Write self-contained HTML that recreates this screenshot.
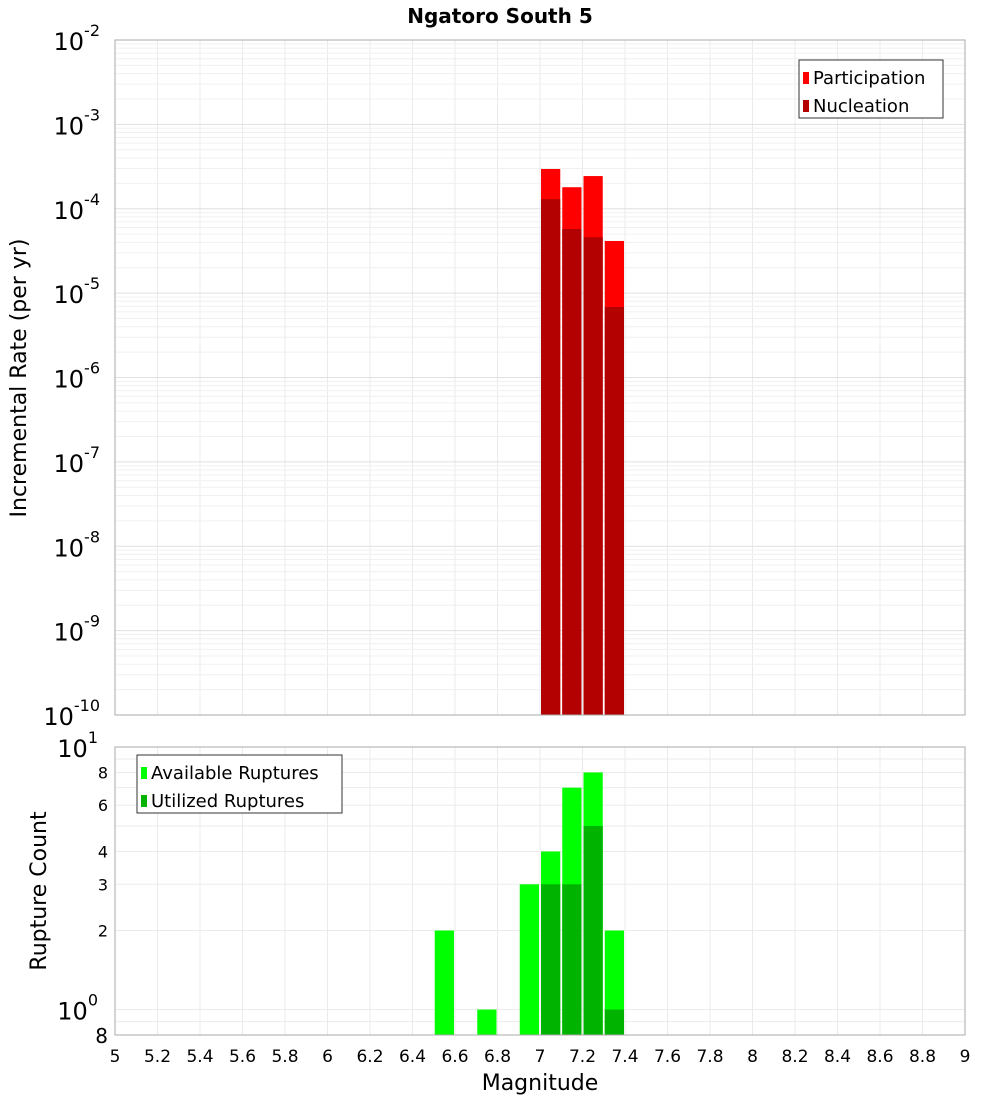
<!DOCTYPE html>
<html><head><meta charset="utf-8"><style>
body{margin:0;background:#fff;font-family:"DejaVu Sans","Liberation Sans",sans-serif}
svg{display:block}
</style></head><body>
<svg id="c" width="1000" height="1100" font-family="DejaVu Sans, Liberation Sans, sans-serif">
<text x="500" y="23" text-anchor="middle" font-size="20" font-weight="bold">Ngatoro South 5</text>
<g id="topG"></g>
<g id="botG"></g>
<text x="540" y="1090" text-anchor="middle" font-size="22">Magnitude</text>
<text transform="translate(26,378) rotate(-90)" text-anchor="middle" font-size="22">Incremental Rate (per yr)</text>
<text transform="translate(46,891) rotate(-90)" text-anchor="middle" font-size="22">Rupture Count</text>
</svg>
<script>
const mags=[6.55,6.75,6.95,7.05,7.15,7.25,7.35];
const partMags=[7.05,7.15,7.25,7.35];
const participation=[2.96e-4,1.8e-4,2.44e-4,4.15e-5];
const nucleation=[1.3e-4,5.75e-5,4.6e-5,6.85e-6];
const available=[2,1,3,4,7,8,2];
const utilMags=[7.05,7.15,7.25,7.35];
const utilized=[3,3,5,1];
const xTicks=[5,5.2,5.4,5.6,5.8,6,6.2,6.4,6.6,6.8,7,7.2,7.4,7.6,7.8,8,8.2,8.4,8.6,8.8,9];
const topExp=[-2,-3,-4,-5,-6,-7,-8,-9,-10];
const botMinor=[2,3,4,6,8];

const NS="http://www.w3.org/2000/svg";
const L=115,R=965;
const xs=m=>L+(m-5)/4*(R-L);
const T0=40,T1=715,yt=v=>T0+(-2-Math.log10(v))/8*(T1-T0);
const B0=747,B1=1035,lmin=Math.log10(0.8),yb=v=>B0+(1-Math.log10(v))/(1-lmin)*(B1-B0);
function mk(p,tag,a,txt){const e=document.createElementNS(NS,tag);for(const k in a)e.setAttribute(k,a[k]);if(txt!==undefined)e.textContent=txt;p.appendChild(e);return e;}
const topG=document.getElementById('topG'),botG=document.getElementById('botG');
mk(topG,'rect',{x:L,y:T0,width:R-L,height:T1-T0,fill:'#fff',stroke:'none'});
mk(botG,'rect',{x:L,y:B0,width:R-L,height:B1-B0,fill:'#fff',stroke:'none'});
xTicks.forEach(t=>{const x=xs(t);
 let g=mk(topG,'line',{x1:x,x2:x,y1:T0,y2:T1,stroke:'#ebebeb'});
 
 
 g=mk(botG,'line',{x1:x,x2:x,y1:B0,y2:B1,stroke:'#ebebeb'});
 
 
 const tl=mk(botG,'text',{x:x,y:1062,'text-anchor':'middle','font-size':17},String(t));
 
 
});
topExp.forEach(e=>{
 for(let k=1;k<10;k++){const v=k*Math.pow(10,e);if(e===-2&&k>1)break;const y=yt(v);
  const g=mk(topG,'line',{x1:L,x2:R,y1:y,y2:y,stroke:k===1?'#e0e0e0':'#f0f0f0'});
  
  }
 const y=yt(Math.pow(10,e));
 const t=mk(topG,'text',{x:100,y:y+10,'text-anchor':'end','font-size':24});
 
 
 mk(t,'tspan',{},'10');mk(t,'tspan',{dy:-14,'font-size':16},String(e));
});
[0.8,0.9,1,2,3,4,5,6,7,8,9,10].forEach(v=>{const y=yb(v);
 const g=mk(botG,'line',{x1:L,x2:R,y1:y,y2:y,stroke:'#ebebeb'});
 
 });
botMinor.forEach(v=>{const t=mk(botG,'text',{x:108,y:yb(v)+6,'text-anchor':'end','font-size':16},String(v));
 
 });
[[1,0],[10,1]].forEach(([v,e])=>{const t=mk(botG,'text',{x:98,y:yb(v)+10,'text-anchor':'end','font-size':24});
 
 
 mk(t,'tspan',{},'10');mk(t,'tspan',{dy:-14,'font-size':16},String(e));});
{const t=mk(botG,'text',{x:108,y:B1+8,'text-anchor':'end','font-size':20},'8');
 
 }
function bar(p,m,y,base,fill,name){const x0=xs(m-0.05)+1,x1=xs(m+0.05)-1;
 const b=mk(p,'rect',{x:x0,y:y,width:x1-x0,height:base-y,fill:fill});
 
 }
partMags.forEach((m,i)=>bar(topG,m,yt(participation[i]),T1,'#ff0000','participation-bar'));
partMags.forEach((m,i)=>bar(topG,m,yt(nucleation[i]),T1,'#b30000','nucleation-bar'));
mags.forEach((m,i)=>bar(botG,m,yb(available[i]),B1,'#00ff00','available-bar'));
utilMags.forEach((m,i)=>bar(botG,m,yb(utilized[i]),B1,'#00b300','utilized-bar'));
mk(topG,'rect',{x:L,y:T0,width:R-L,height:T1-T0,fill:'none',stroke:'#aaa'});
mk(botG,'rect',{x:L,y:B0,width:R-L,height:B1-B0,fill:'none',stroke:'#aaa'});
function legend(p,x,y,w,items,name){const g=mk(p,'g',{});
 
 
 mk(g,'rect',{x:x,y:y,width:w,height:58,fill:'#fff',stroke:'#333'});
 items.forEach(([c,l],i)=>{mk(g,'rect',{x:x+4,y:y+12+i*28,width:6,height:12,fill:c});
  const t=mk(g,'text',{x:x+14,y:y+24+i*28,'font-size':18},l);
  
  });}
legend(topG,799,60,144,[['#ff0000','Participation'],['#b30000','Nucleation']],'top-legend');
legend(botG,137,755,205,[['#00ff00','Available Ruptures'],['#00b300','Utilized Ruptures']],'bottom-legend');
</script>
</body></html>
